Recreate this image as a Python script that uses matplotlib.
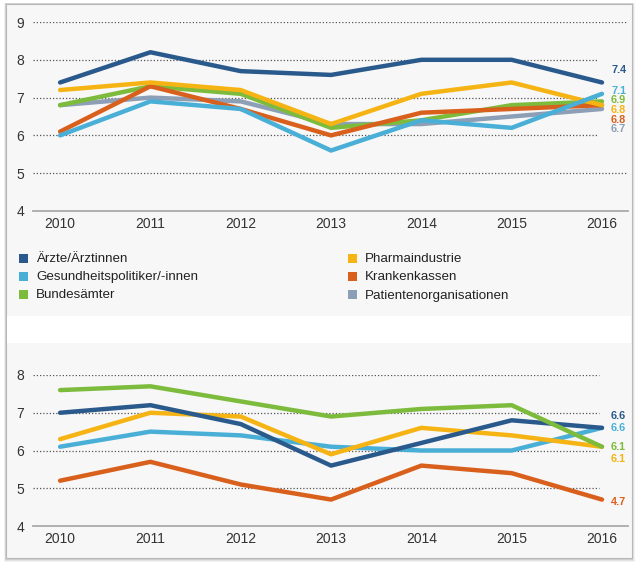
import matplotlib
matplotlib.use("Agg")
import matplotlib.pyplot as plt
from matplotlib.patches import Rectangle

plt.rcParams['font.family'] = ['Liberation Sans', 'DejaVu Sans']

years = [2010, 2011, 2012, 2013, 2014, 2015, 2016]

# Top chart
top_aerzte = [7.4, 8.2, 7.7, 7.6, 8.0, 8.0, 7.4]
top_pharma = [7.2, 7.4, 7.2, 6.3, 7.1, 7.4, 6.8]
top_politik = [6.0, 6.9, 6.7, 5.6, 6.4, 6.2, 7.1]
top_kassen = [6.1, 7.3, 6.7, 6.0, 6.6, 6.7, 6.8]
top_bund = [6.8, 7.3, 7.1, 6.2, 6.4, 6.8, 6.9]
top_patient = [6.8, 7.0, 6.9, 6.3, 6.3, 6.5, 6.7]

# Bottom chart
bot_aerzte = [7.0, 7.2, 6.7, 5.6, 6.2, 6.8, 6.6]
bot_pharma = [6.3, 7.0, 6.9, 5.9, 6.6, 6.4, 6.1]
bot_politik = [6.1, 6.5, 6.4, 6.1, 6.0, 6.0, 6.6]
bot_kassen = [5.2, 5.7, 5.1, 4.7, 5.6, 5.4, 4.7]
bot_bund = [7.6, 7.7, 7.3, 6.9, 7.1, 7.2, 6.1]

legend_labels = ["Ärzte/Ärztinnen", "Gesundheitspolitiker/-innen", "Bundesämter",
                 "Pharmaindustrie", "Krankenkassen", "Patientenorganisationen"]

C = {
    "aerzte": "#2a5a8c",
    "politik": "#4aafd6",
    "bund": "#7dbb3c",
    "pharma": "#f6b414",
    "kassen": "#d9601c",
    "patient": "#8c9fb6",
}
legend_colors = [C["aerzte"], C["politik"], C["bund"], C["pharma"], C["kassen"], C["patient"]]

W, H = 640, 566
fig = plt.figure(figsize=(W / 100, H / 100), dpi=100)
fig.patch.set_facecolor("white")


def px_rect(x0, y0, x1, y1, **kw):
    r = Rectangle((x0 / W, 1 - y1 / H), (x1 - x0) / W, (y1 - y0) / H,
                  transform=fig.transFigure, **kw)
    fig.add_artist(r)
    return r


# shadow
for i, a in enumerate([0.05, 0.06, 0.08, 0.10]):
    d = 4 - i
    px_rect(6 - d * 0.5, 4 - d * 0.3, 632 + d * 0.7, 558 + d, facecolor="black",
            edgecolor="none", alpha=a, zorder=0)
# frame
px_rect(6, 4, 632, 558, facecolor="#f7f7f7", edgecolor="#b8b8b8", linewidth=0.8, zorder=0.5)
px_rect(6.6, 316, 631.4, 343, facecolor="white", edgecolor="none", zorder=0.6)

XL = (2009.70, 2016.288)
grid_ls = (0, (1, 1.6))


def setup(ax, ylim, ticks, grid_ends):
    ax.set_zorder(2)
    ax.set_xlim(*XL)
    ax.set_ylim(*ylim)
    ax.patch.set_alpha(0)
    for s in ["top", "right", "left"]:
        ax.spines[s].set_visible(False)
    ax.spines["bottom"].set_color("#aaaaaa")
    ax.spines["bottom"].set_linewidth(1.3)
    ax.set_xticks(years)
    ax.set_xticklabels([str(y) for y in years])
    ax.set_yticks(ticks)
    ax.set_yticklabels([str(t) for t in ticks])
    ax.tick_params(axis="both", length=0, labelsize=10, labelcolor="#333333")
    ax.tick_params(axis="y", pad=6.5)
    ax.tick_params(axis="x", pad=4.5)
    for t, xe in zip(ticks[1:], grid_ends):
        ax.hlines(t, XL[0], xe, colors="#555555", linestyles=[grid_ls], linewidth=0.9, zorder=1)


def plot_series(ax, series, labels_spec):
    for vals, col, z in series:
        ax.plot(years, vals, color=col, linewidth=3.2, solid_capstyle="round",
                solid_joinstyle="round", zorder=z, clip_on=False)
    for vals, col, dy in labels_spec:
        ax.annotate(f"{vals[-1]:.1f}", xy=(years[-1], vals[-1]),
                    xytext=(6.5, -dy * 0.72), textcoords="offset points",
                    ha="left", va="center", fontsize=7.8, fontweight="bold",
                    color=col, annotation_clip=False)


ax1 = fig.add_axes([33 / W, 1 - 211 / H, 595 / W, 189 / H])
setup(ax1, (4, 9), [4, 5, 6, 7, 8, 9], [2016.288, 2015.945, 2015.945, 2015.945, 2016.288])
plot_series(ax1, [
    (top_patient, C["patient"], 2),
    (top_bund, C["bund"], 3),
    (top_kassen, C["kassen"], 4),
    (top_pharma, C["pharma"], 5),
    (top_politik, C["politik"], 6),
    (top_aerzte, C["aerzte"], 7),
], [
    (top_aerzte, C["aerzte"], -12),
    (top_politik, C["politik"], -2.5),
    (top_bund, C["bund"], -1),
    (top_pharma, C["pharma"], 4.4),
    (top_kassen, C["kassen"], 14.4),
    (top_patient, C["patient"], 19.7),
])

ax2 = fig.add_axes([33 / W, 1 - 526 / H, 595 / W, 151 / H])
setup(ax2, (4, 8), [4, 5, 6, 7, 8], [2015.97] * 4)
plot_series(ax2, [
    (bot_kassen, C["kassen"], 3),
    (bot_politik, C["politik"], 4),
    (bot_pharma, C["pharma"], 5),
    (bot_aerzte, C["aerzte"], 6),
    (bot_bund, C["bund"], 7),
], [
    (bot_aerzte, C["aerzte"], -11.4),
    (bot_politik, C["politik"], 0),
    (bot_bund, C["bund"], 0),
    (bot_pharma, C["pharma"], 12),
    (bot_kassen, C["kassen"], 2),
])

# legend
rows_y = [259.5, 277.5, 295.5]
cols_x = [(18.5, 36), (347.5, 365)]
for i, (lab, col) in enumerate(zip(legend_labels, legend_colors)):
    cx, tx = cols_x[i // 3]
    y = rows_y[i % 3]
    px_rect(cx, y - 6, cx + 9, y + 3, facecolor=col, edgecolor="none", zorder=3)
    fig.text(tx / W, 1 - y / H, lab, ha="left", va="center", fontsize=9.6, color="#222222")

fig.savefig("out.png", dpi=100, facecolor="white")
